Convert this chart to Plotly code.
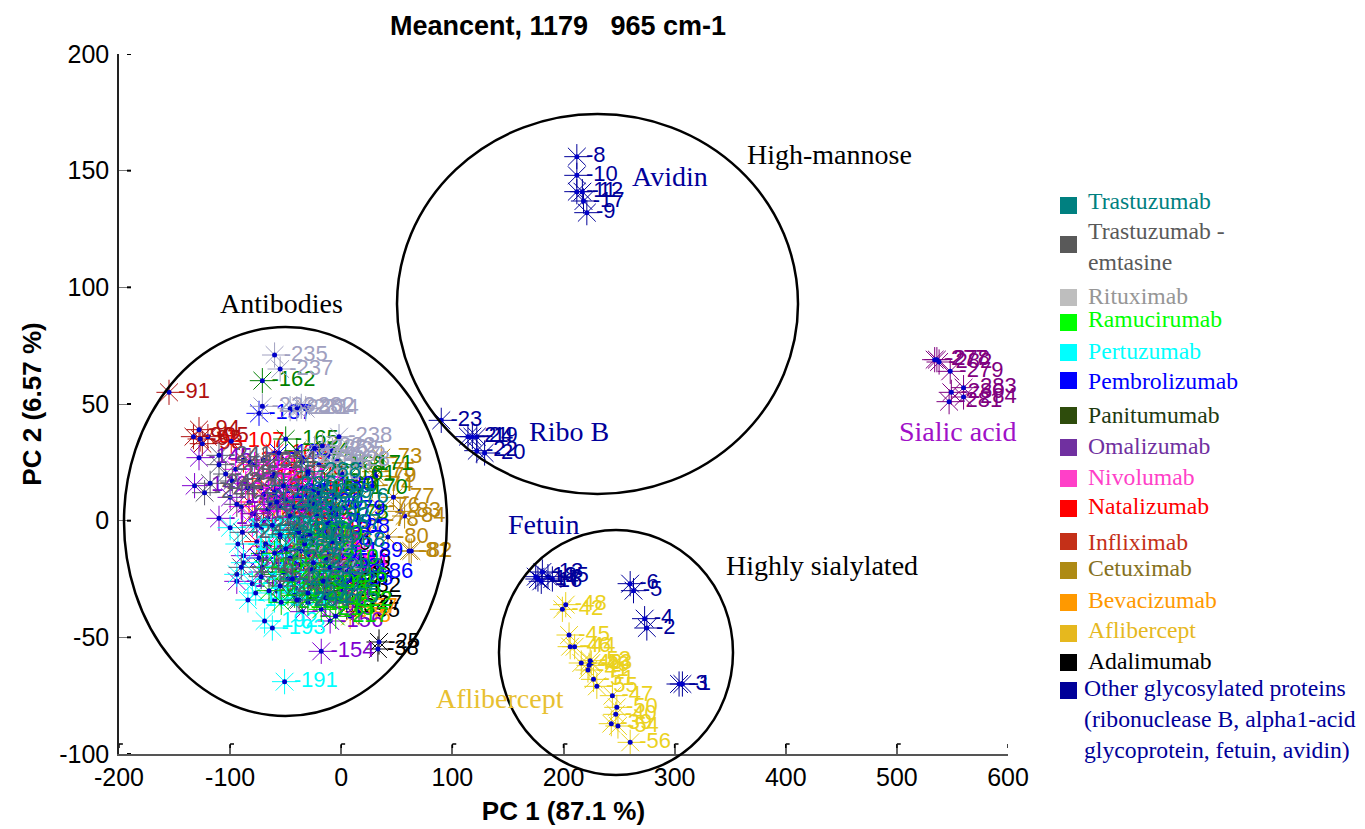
import plotly.graph_objects as go

# ---------- data ----------
other_l = [1,3,2,4,5,6,7,13,14,15,16,18,8,10,11,12,17,9,23,21,24,19,22,20]
other_x = [307,304,275,273,263,260,190,181,177,186,180,175,212,212,212,217,218,221,90,114,118,122,122,129]
other_y = [-70,-70,-46,-42,-30,-27,-25,-22,-25,-24,-26,-24,156,148,141,141,137,132,43,36,36,36,30,29]

adali_l = [25,38,32,27,35,28,33,26,30,29,31,34,36,37]
adali_x = [34,33,17,18,16,10,8,8,-10,-2,0,5,-3,4]
adali_y = [-52,-55,-28,-36,-39,-34,-21,-16,-10,-24,-30,-37,-18,-26]

afli_l = [42,48,45,46,44,43,49,52,53,51,55,41,47,50,40,39,54,56]
afli_x = [199,202,205,206,210,216,223,224,225,227,230,222,244,248,247,243,249,260]
afli_y = [-38,-36,-49,-54,-54,-61,-62,-60,-61,-68,-71,-64,-75,-80,-83,-87,-88,-95]

beva_l = [57,58,59,60,61,62,63,64,65,66,67,68,69,70,71,72]
beva_x = [14,8,-72,-58,-44,-31,-22,-12,-65,-50,-37,-26,-9,-80,-41,-18]
beva_y = [-37,-41,14,7,-3,-15,-24,-32,-11,-21,4,12,-6,3,-29,-13]

cetu_l = [73,74,75,76,77,78,79,80,81,82,83,84]
cetu_x = [36,28,30,34,47,33,31,42,61,63,53,57]
cetu_y = [27,15,21,6,10,0,19,-7,-13,-13,4,2]

infl_l = [91,94,90,92,93,95,96,97,98,99,100,101,102]
infl_x = [-155,-128,-133,-127,-125,-120,-60,-50,-40,-30,-20,-70,-80]
infl_y = [55,39,36,35,33,36,20,10,-5,-15,-25,0,15]

nata_l = [103,104,105,106,107,108,109,110,111,112,113,114,115,116,117,118]
nata_x = [-88,-74,-60,-45,-99,-30,-83,-66,-52,-36,-20,-76,-58,-42,-26,-10]
nata_y = [26,18,29,22,34,14,8,1,10,3,-4,-9,-14,-18,-8,-20]

nivo_l = [119,120,121,122,123,124,125,126,127,128,129,130,131,132,133,134]
nivo_x = [-95,-86,-78,-90,-70,-62,-80,-55,-47,-68,-38,-60,-28,-44,-18,-6]
nivo_y = [22,16,24,6,11,19,-2,6,15,-11,1,-18,-10,-22,-14,-18]

omal_l = [145,146,147,148,149,150,151,152,153,154,155,156,157,158,159,160]
omal_x = [-128,-132,-110,-94,-100,-88,-72,-35,-58,-18,-78,-10,-46,-64,-30,-22]
omal_y = [27,15,1,-26,10,-15,-22,-39,-30,-56,3,-43,-26,7,-6,-33]

pani_l = [161,162,163,164,165,166,167,168,169,170,171,172,173,174,175,176,177,178]
pani_x = [1,-71,-35,-40,-50,-15,-25,-8,-30,12,17,-62,-48,-36,-20,-70,-55,-5]
pani_y = [20,60,25,30,35,15,13,24,5,14,24,-23,-31,-19,-27,-14,-7,3]

pemb_l = [179,180,181,182,183,184,185,186,187,188,189,190,85,86,87,88,89,90]
pemb_x = [-8,-18,-42,-60,-74,-56,-34,17,-74,-4,8,-28,-12,10,0,-2,-9,-22]
pemb_y = [5,15,-4,12,-16,29,-24,-22,46,-3,-13,8,-18,-25,-8,-20,-1,-14]

pert_l = [191,192,193,194,195,196,197,198,199,200,201,202,203,204]
pert_x = [-51,-69,-62,-80,-84,-77,-93,-100,-94,-68,-88,-56,-72,-60]
pert_y = [-69,-43,-46,-27,-34,-31,-10,-3,-23,-10,-18,-20,-3,-34]

ramu_l = [205,206,207,208,209,210,211,212,213,214,215,216,217,218,219,220,221,222]
ramu_x = [-71,-60,-48,-36,-24,-14,-65,-54,-42,-30,-18,-6,-5,-40,-28,-12,-52,-2]
ramu_y = [-20,-14,-25,-13,-27,-16,-30,-35,-32,-35,-38,-24,-41,-4,-6,-31,-22,-34]

ritu_l = [223,224,225,226,227,228,229,230,231,232,233,234,235,236,237,238,239,240]
ritu_x = [-17,-35,-8,-24,-12,-4,-28,-46,-40,-36,-71,-32,-60,-20,-55,-2,-38,-30]
ritu_y = [32,27,30,31,28,26,-21,48,48,49,49,48,71,24,65,36,-12,20]

tdm1_l = [241,242,243,244,245,246,247,248,249,250,251,252,253,254,255,256,257,258,259,260,261,262]
tdm1_x = [-110,-110,-118,-123,-104,-90,-89,-55,-38,-98,-94,-82,-84,-70,-66,-76,-60,-46,-50,-34,-72,-26]
tdm1_y = [28,24,16,12,20,-20,-5,-28,-34,17,7,25,14,26,5,-2,20,-16,9,-7,-24,-21]

tras_l = [263,264,265,266,267,268,269,270,271,272,273,274,275,276,285,286,287,288,289,290,291,292,293,294]
tras_x = [-58,-46,-35,-24,-12,-8,-50,-38,-25,-16,-44,-30,-14,-5,-62,-52,-42,-30,-20,-55,-33,-22,-10,-40]
tras_y = [8,2,14,7,-1,-9,-12,-5,-18,-26,-25,-31,-33,10,-2,15,6,21,12,-6,-10,2,-20,-34]

sial_l = [277,278,282,279,283,280,284,281]
sial_x = [534,536,538,548,560,549,560,547]
sial_y = [69,69,68,64,57,55,53,51]

groups = [
    (other_l, other_x, other_y, "#00009A"),
    (adali_l, adali_x, adali_y, "#000000"),
    (afli_l, afli_x, afli_y, "#EBD21E"),
    (beva_l, beva_x, beva_y, "#FF9900"),
    (cetu_l, cetu_x, cetu_y, "#B8860B"),
    (infl_l, infl_x, infl_y, "#B01010"),
    (nata_l, nata_x, nata_y, "#FF0000"),
    (nivo_l, nivo_x, nivo_y, "#FF00FF"),
    (omal_l, omal_x, omal_y, "#8000D0"),
    (pani_l, pani_x, pani_y, "#008000"),
    (pemb_l, pemb_x, pemb_y, "#0000FF"),
    (pert_l, pert_x, pert_y, "#00FFFF"),
    (ramu_l, ramu_x, ramu_y, "#00D000"),
    (ritu_l, ritu_x, ritu_y, "#A0A0C0"),
    (tdm1_l, tdm1_x, tdm1_y, "#5B5B70"),
    (tras_l, tras_x, tras_y, "#008080"),
    (sial_l, sial_x, sial_y, "#800080"),
]

legend_names = ["Trastuzumab", "Trastuzumab -<br>emtasine", "Rituximab", "Ramucirumab", "Pertuzumab",
                "Pembrolizumab", "Panitumumab", "Omalizumab", "Nivolumab", "Natalizumab", "Infliximab",
                "Cetuximab", "Bevacizumab", "Aflibercept", "Adalimumab",
                "Other glycosylated proteins<br>(ribonuclease B, alpha1-acid<br>glycoprotein, fetuin, avidin)"]
legend_box = ["#008080", "#595959", "#BEBEBE", "#00FF00", "#00FFFF", "#0000FF", "#2E4C0C", "#7030A0",
              "#FF40C8", "#FF0000", "#C43018", "#AE8A14", "#FF9900", "#E6B81E", "#000000", "#000099"]
legend_text = ["#008080", "#595959", "#969696", "#00FF00", "#00FFFF", "#0000FF", "#1E3A10", "#7030A0",
               "#FF40C8", "#FF0000", "#C43018", "#857020", "#FF9900", "#E6B81E", "#000000", "#000099"]
legend_box_top = [197, 236, 289, 314, 344, 372, 407, 439, 470, 500, 533, 562, 594, 625, 654, 682]
legend_text_mid = [201, 247, 296, 319, 351, 381, 415, 446, 477, 506, 542, 568, 600, 630, 661, 719]
legend_text_left = [1086]*15 + [1082]

labels = [("High-mannose", 829, 155, "#000000"), ("Antibodies", 281, 303, "#000000"),
          ("Highly sialylated", 822, 565, "#000000"), ("Avidin", 670, 176, "#00009A"),
          ("Ribo B", 569, 431, "#00009A"), ("Sialic acid", 957, 431, "#A010C8"),
          ("Fetuin", 544, 524, "#00009A"), ("Aflibercept", 500, 698, "#E8C030")]

ellipses = [(124, 447, 327, 716), (397, 798, 114, 494), (499, 733, 530, 775)]

x_ticks = [-200, -100, 0, 100, 200, 300, 400, 500, 600]
y_ticks = [-100, -50, 0, 50, 100, 150, 200]

# ---------- layout helpers ----------
W, H = 1365, 829
L, R, T, B = 119, 1008, 54, 754
def px(v): return v / W
def py(v): return 1 - v / H
def axpx(v): return (v - L) / (R - L)
def aypx(v): return (B - v) / (B - T)

fig = go.Figure()
for lab, xs, ys, col in groups:
    fig.add_trace(go.Scatter(
        x=xs, y=ys, mode="markers",
        marker=dict(symbol="asterisk-open", size=21, line=dict(width=1, color=col), color=col),
        showlegend=False, cliponaxis=False, hoverinfo="skip"))
    fig.add_trace(go.Scatter(
        x=xs, y=ys, mode="markers",
        marker=dict(symbol="circle", size=5, color="#0000C8"),
        showlegend=False, cliponaxis=False, hoverinfo="skip"))
    fig.add_trace(go.Scatter(
        x=xs, y=ys, mode="markers+text", text=[f"-{v}" for v in lab],
        textposition="middle right",
        textfont=dict(family="Liberation Sans", size=22, color=col),
        marker=dict(symbol="circle", size=13, color="rgba(0,0,0,0)"),
        showlegend=False, cliponaxis=False, hoverinfo="skip"))

shapes = []
for x0, x1, y0, y1 in ellipses:
    shapes.append(dict(type="circle", xref="paper", yref="paper", layer="above",
                       x0=axpx(x0), x1=axpx(x1), y0=aypx(y1), y1=aypx(y0),
                       line=dict(color="#000000", width=2.5)))
# hooked tick ends
for v in x_ticks:
    shapes.append(dict(type="line", xref="x", yref="paper", x0=v, x1=v + 3.5,
                       y0=aypx(744), y1=aypx(744), line=dict(color="#000000", width=1.5)))
    shapes.append(dict(type="line", xref="x", yref="paper", x0=v, x1=v,
                       y0=aypx(744), y1=aypx(748), line=dict(color="#000000", width=1.5)))
for v in y_ticks:
    shapes.append(dict(type="line", xref="paper", yref="y", x0=axpx(127), x1=axpx(131),
                       y0=v, y1=v, line=dict(color="#000000", width=2)))
for top, c in zip(legend_box_top, legend_box):
    shapes.append(dict(type="rect", xref="paper", yref="paper", x0=axpx(1060), x1=axpx(1077),
                       y0=aypx(top), y1=aypx(top + 17), fillcolor=c, line=dict(width=0)))

ann = []
for name, mid, left, c in zip(legend_names, legend_text_mid, legend_text_left, legend_text):
    ann.append(dict(text=name, xref="paper", yref="paper", x=axpx(left), y=aypx(mid), showarrow=False,
                    xanchor="left", yanchor="middle", align="left",
                    font=dict(family="Liberation Serif", size=23.7, color=c)))
for t, xc, yc, c in labels:
    ann.append(dict(text=t, xref="paper", yref="paper", x=axpx(xc), y=aypx(yc), showarrow=False,
                    xanchor="center", yanchor="middle",
                    font=dict(family="Liberation Serif", size=28, color=c)))

fig.update_layout(
    width=W, height=H, margin=dict(l=L, r=W - R, t=T, b=H - B, autoexpand=False),
    paper_bgcolor="white", plot_bgcolor="white", showlegend=False,
    font=dict(family="Liberation Sans", color="#000000"),
    title=dict(text="<b>Meancent, 1179\u00a0\u00a0\u00a0965 cm-1</b>", x=px(558), xanchor="center",
               y=py(26), yanchor="middle", font=dict(size=27, color="#000000")),
    xaxis=dict(range=[-200, 600], tickvals=x_ticks, ticktext=[str(v) for v in x_ticks], automargin=False,
               ticks="inside", ticklen=9, tickcolor="#666666", tickwidth=1.5,
               showgrid=False, zeroline=False, showline=True, linecolor="#555555", linewidth=2,
               tickfont=dict(size=25), title=dict(text="<b>PC 1 (87.1 %)</b>", font=dict(size=26), standoff=12)),
    yaxis=dict(range=[-100, 200], tickvals=y_ticks, ticktext=[str(v) for v in y_ticks], automargin=False,
               ticks="inside", ticklen=12, tickcolor="#777777", tickwidth=1, ticklabelstandoff=3,
               showgrid=False, zeroline=False, showline=True, linecolor="#222222", linewidth=1.5,
               tickfont=dict(size=25), title=dict(text="<b>PC 2 (6.57 %)</b>", font=dict(size=26), standoff=10)),
    shapes=shapes, annotations=ann)

fig.write_html("out.html", config={"displayModeBar": False},
               post_script="document.body.style.margin='0';document.body.style.overflow='hidden';")
